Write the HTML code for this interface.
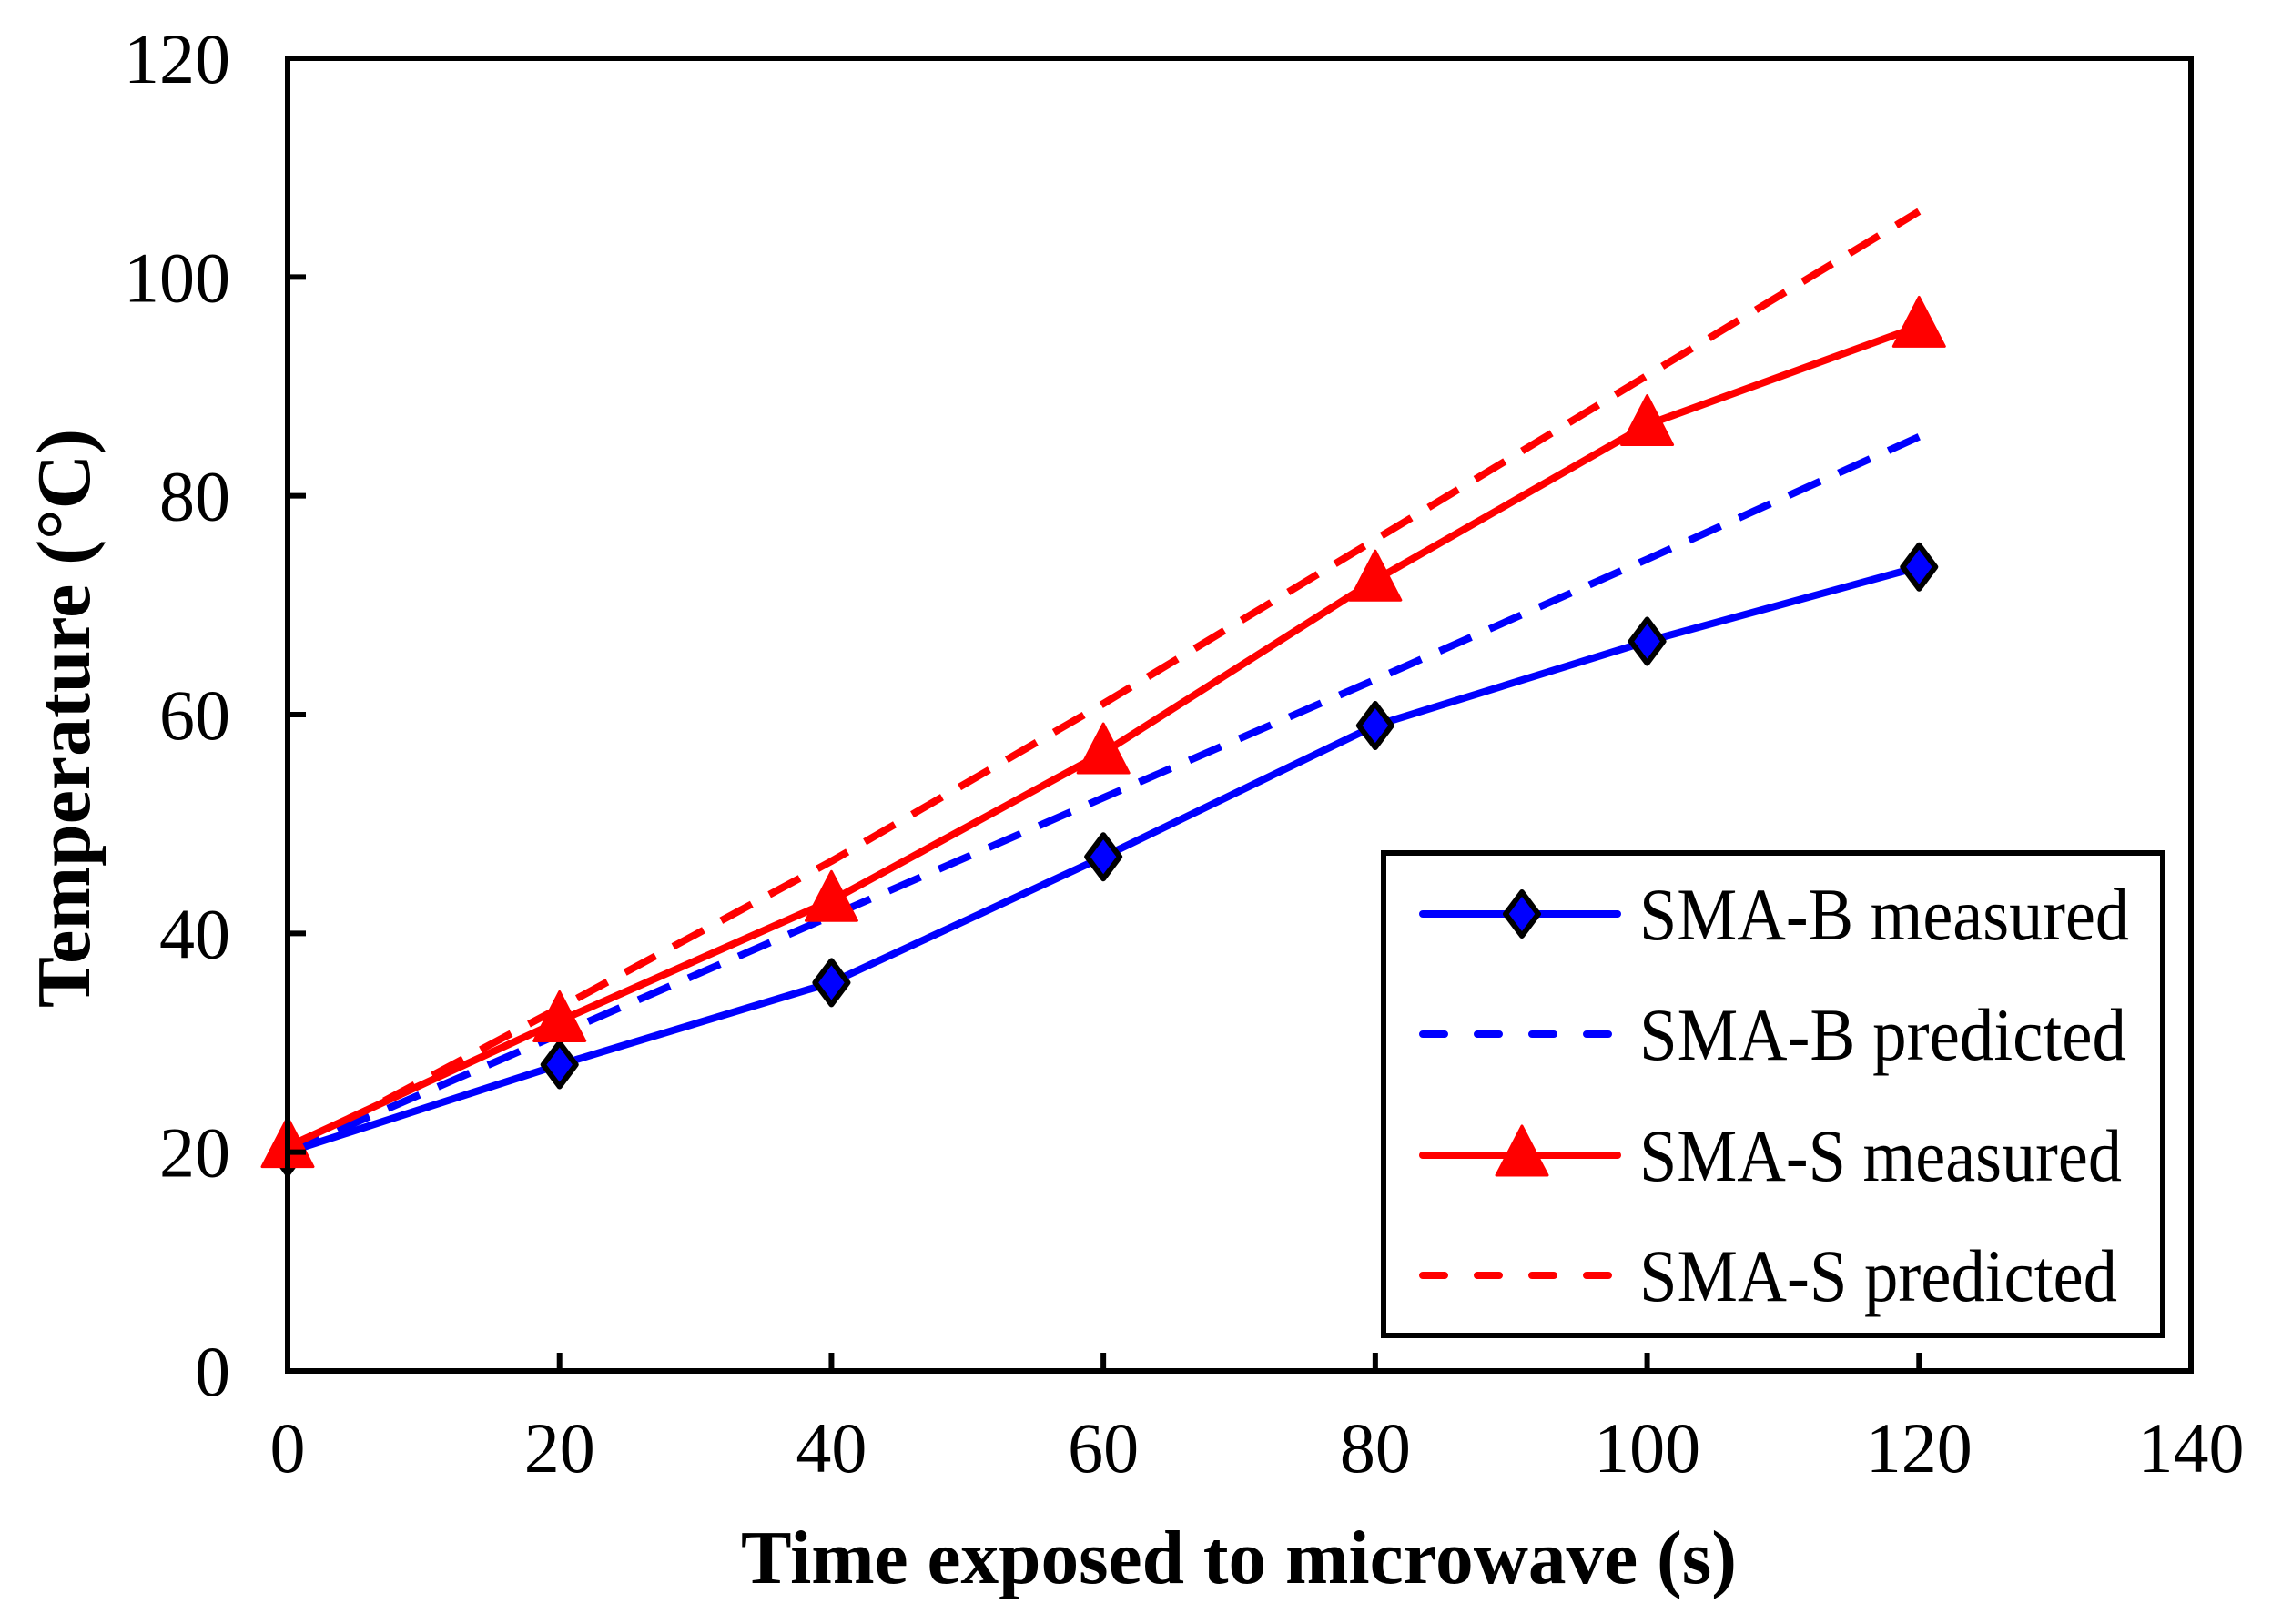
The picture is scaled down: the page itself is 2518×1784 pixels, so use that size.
<!DOCTYPE html>
<html><head><meta charset="utf-8"><style>
html,body{margin:0;padding:0;background:#fff;}
svg{display:block;}
text{font-family:"Liberation Serif",serif;fill:#000;}
</style></head><body>
<svg id="chart" width="2518" height="1784" viewBox="0 0 2518 1784" xmlns="http://www.w3.org/2000/svg">
<g id="series"></g>
<g id="axes"></g>
<g id="legend"></g>
</svg>
<script>
const xTicks=[0,20,40,60,80,100,120,140];
const yTicks=[0,20,40,60,80,100,120];
const times=[0,20,40,60,80,100,120];
const smaBMeasured=[20,28,35.5,47,59,66.7,73.5];
const smaBPredicted=[20,30.8,41.6,52.4,63.2,74.2,85.4];
const smaSMeasured=[20.5,32,43,56.5,72.3,86.5,95.5];
const smaSPredicted=[20,33.2,46.6,61,76,91,106];

const L=316,R=2407,T=64,B=1506;
const X=v=>L+(v-0)/(140-0)*(R-L);
const Y=v=>B-(v-0)/(120-0)*(B-T);
const NS="http://www.w3.org/2000/svg";
function mk(tag,attrs,parent){const e=document.createElementNS(NS,tag);for(const k in attrs)e.setAttribute(k,attrs[k]);parent.appendChild(e);return e;}
const axes=document.getElementById('axes'),series=document.getElementById('series'),legend=document.getElementById('legend');

let fr=mk('rect',{x:L,y:T,width:R-L,height:B-T,fill:'none',stroke:'#000','stroke-width':6},axes);


xTicks.forEach(t=>{
  let l=mk('line',{x1:X(t),x2:X(t),y1:B,y2:B-20,stroke:'#000','stroke-width':6},axes);
  
  
  let tx=mk('text',{x:X(t),y:1617,'font-size':78,'text-anchor':'middle'},axes);tx.textContent=t;
  
  
});
yTicks.forEach(t=>{
  let l=mk('line',{x1:L,x2:L+20,y1:Y(t),y2:Y(t),stroke:'#000','stroke-width':6},axes);
  
  
  let tx=mk('text',{x:253,y:Y(t)+27,'font-size':78,'text-anchor':'end'},axes);tx.textContent=t;
  
  
});
let xt=mk('text',{x:1361,y:1739,'font-size':84,'font-weight':'bold','text-anchor':'middle',textLength:1094,lengthAdjust:'spacingAndGlyphs'},axes);
xt.textContent='Time exposed to microwave (s)';


let yt=mk('text',{x:0,y:0,'font-size':84,'font-weight':'bold','text-anchor':'middle',textLength:636,lengthAdjust:'spacingAndGlyphs',transform:'translate(98,789) rotate(-90)'},axes);
yt.textContent='Temperature (°C)';



function line(vals,color,dash,name){
  const pts=times.map((t,i)=>X(t)+','+Y(vals[i])).join(' ');
  let p=mk('polyline',{points:pts,fill:'none',stroke:color,'stroke-width':8,'stroke-dasharray':dash||'none','stroke-linejoin':'round'},series);
  
  
}
function diamond(cx,cy,g){return mk('polygon',{points:`${cx},${cy-24} ${cx+18},${cy} ${cx},${cy+24} ${cx-18},${cy}`,fill:'#0000ff',stroke:'#000','stroke-width':6,'stroke-linejoin':'round'},g);}
function tri(cx,cy,g){return mk('polygon',{points:`${cx},${cy-32} ${cx+28},${cy+22} ${cx-28},${cy+22}`,fill:'#ff0000',stroke:'#ff0000','stroke-width':3,'stroke-linejoin':'round'},g);}

line(smaSPredicted,'#ff0000','38 22','sma-s-predicted-line');
line(smaBPredicted,'#0000ff','38 22','sma-b-predicted-line');
line(smaSMeasured,'#ff0000',null,'sma-s-measured-line');
line(smaBMeasured,'#0000ff',null,'sma-b-measured-line');
times.forEach((t,i)=>{
  let d=diamond(X(t),Y(smaBMeasured[i]),series);
  
  
  let tr=tri(X(t),Y(smaSMeasured[i]),series);
  
  
});

let lb=mk('rect',{x:1520,y:937,width:856,height:530,fill:'#fff',stroke:'#000','stroke-width':6},legend);


const legY=[1004,1136,1269,1401];
const legLabels=['SMA-B measured','SMA-B predicted','SMA-S measured','SMA-S predicted'];
const legLens=[538,535,530,525];
const legColors=['#0000ff','#0000ff','#ff0000','#ff0000'];
legLabels.forEach((lab,i)=>{
  let ln=mk('line',{x1:1563,x2:1777,y1:legY[i],y2:legY[i],stroke:legColors[i],'stroke-width':8,'stroke-linecap':'round','stroke-dasharray':(i%2)?'24 36':'none'},legend);
  
  
  if(i===0){let d=diamond(1672,legY[i],legend);}
  if(i===2){let d=tri(1672,legY[i],legend);}
  let tx=mk('text',{x:1801,y:legY[i]+28,'font-size':82,textLength:legLens[i],lengthAdjust:'spacingAndGlyphs'},legend);tx.textContent=lab;
  
  
});
</script>
</body></html>
